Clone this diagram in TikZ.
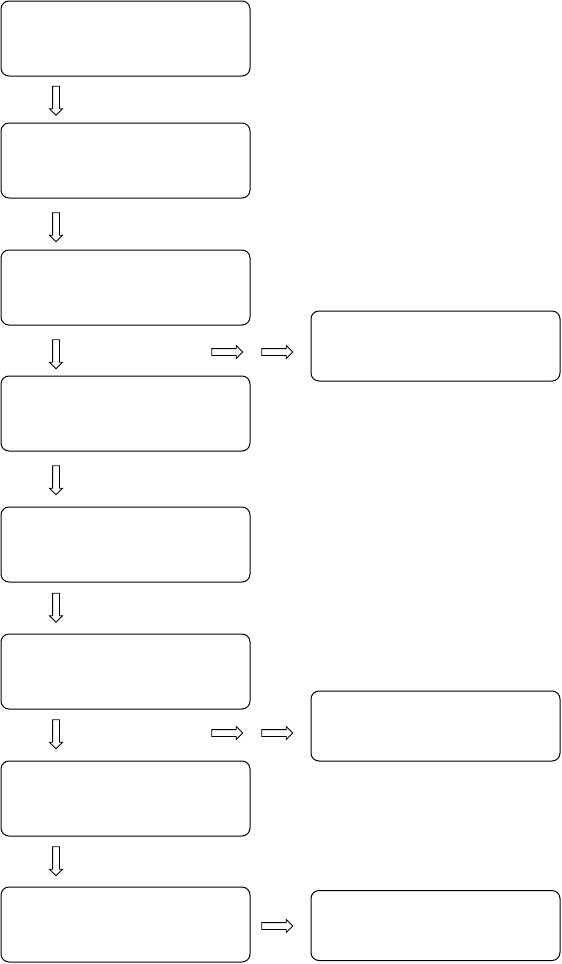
\documentclass[tikz,border=0pt]{standalone}
\usepackage{tikz}
\usetikzlibrary{shapes.arrows}
\tikzset{
  stepbox/.style={draw,line width=1pt,rounded corners=8pt,minimum width=249pt,minimum height=75pt,inner sep=0pt},
  sidebox/.style={draw,line width=1pt,rounded corners=8pt,minimum width=249pt,minimum height=70pt,inner sep=0pt},
  blockarrow/.style={draw,line width=0.8pt,single arrow,inner sep=3pt,minimum width=12pt,single arrow head extend=3pt,single arrow head indent=0pt,minimum height=#1},
  blockarrow/.default=29pt
}

\begin{document}
\begin{tikzpicture}[x=1pt,y=-1pt]
  \useasboundingbox (0,0) rectangle (562,964);
  % left column
  \node[stepbox] (s1) at (125.5,38.5) {};
  \node[stepbox] (s2) at (125.5,160.5) {};
  \node[stepbox] (s3) at (125.5,287.5) {};
  \node[stepbox] (s4) at (125.5,413.5) {};
  \node[stepbox] (s5) at (125.5,544.5) {};
  \node[stepbox] (s6) at (125.5,671.5) {};
  \node[stepbox] (s7) at (125.5,798.5) {};
  \node[stepbox] (s8) at (125.5,924.5) {};
  % right column
  \node[sidebox] (r1) at (435.5,346) {};
  \node[sidebox] (r2) at (435.5,726) {};
  \node[sidebox] (r3) at (435.5,925.5) {};
  % downward arrows between the steps
  \foreach \i/\y in {1/99,2/225.5,3/352.5,4/478.5,5/606,6/732.5,7/859.5}
    \node[blockarrow,shape border rotate=270] (d\i) at (56,\y) {};
  % arrows towards the right column
  \node[blockarrow=31pt] (a1) at (225.5,352) {};
  \node[blockarrow=31pt] (b1) at (275.5,352) {};
  \node[blockarrow=31pt] (a2) at (225.5,733) {};
  \node[blockarrow=31pt] (b2) at (275.5,733) {};
  \node[blockarrow=31pt] (b3) at (275.5,926) {};
\end{tikzpicture}
\end{document}
